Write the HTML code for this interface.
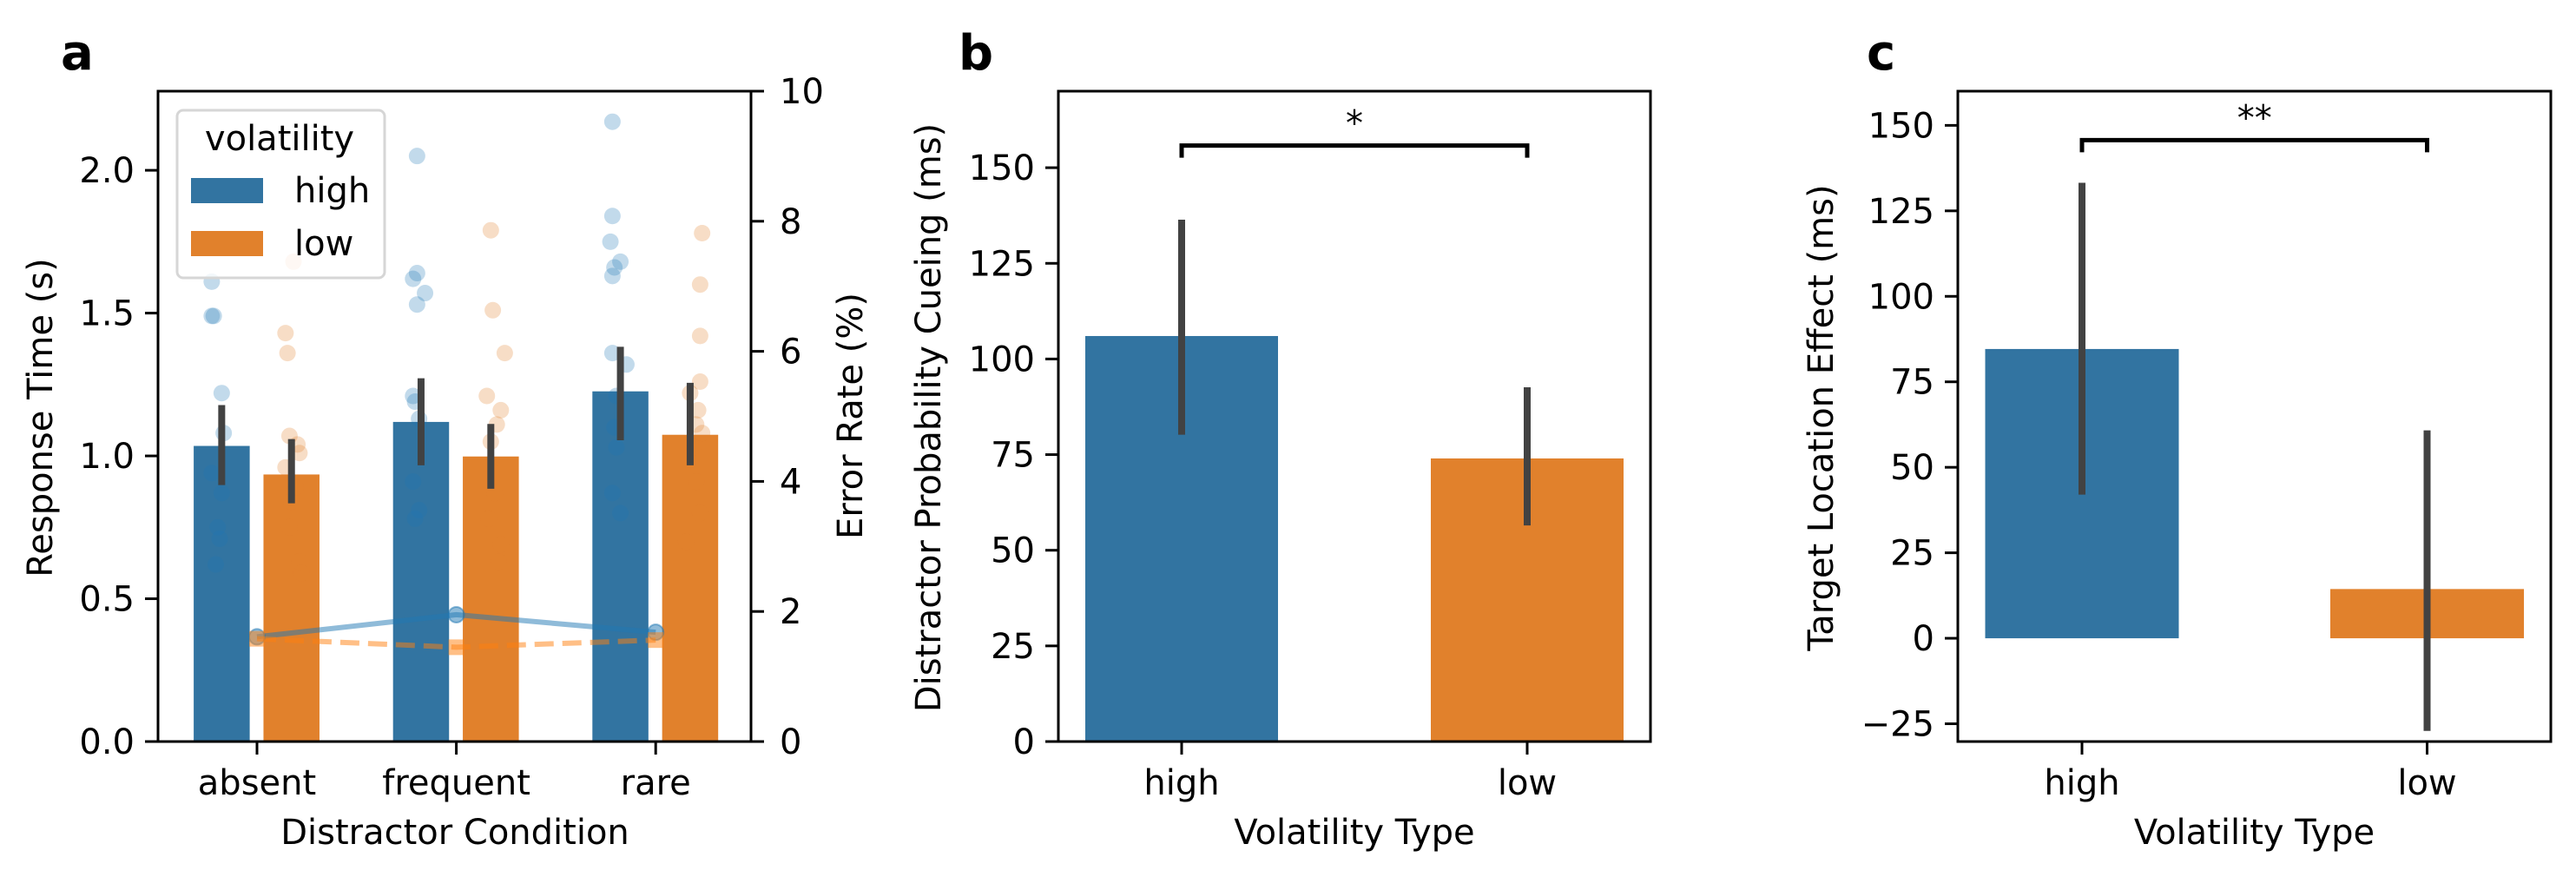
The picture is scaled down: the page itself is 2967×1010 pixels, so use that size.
<!DOCTYPE html>
<html><head><meta charset="utf-8">
<style>
html,body{margin:0;padding:0;background:#fff;}
svg{display:block;font-family:"DejaVu Sans","Liberation Sans",sans-serif;}
</style></head>
<body>
<svg id="fig" width="2967" height="1010" viewBox="0 0 2967 1010" xmlns="http://www.w3.org/2000/svg"></svg>
<script>
// ---------- Panel a data ----------
const aCategories = ["absent", "frequent", "rare"];
const aHues = ["high", "low"];
const aMeanHigh = [1.035, 1.119, 1.226];
const aMeanLow = [0.935, 0.998, 1.074];
const aCiHighLo = [0.898, 0.967, 1.055];
const aCiHighHi = [1.178, 1.272, 1.382];
const aCiLowLo = [0.834, 0.885, 0.967];
const aCiLowHi = [1.059, 1.112, 1.256];
const aErrHigh = [1.61, 1.95, 1.68];
const aErrLow = [1.58, 1.45, 1.56];
const aYTicks = [0.0, 0.5, 1.0, 1.5, 2.0];
const aY2Ticks = [0, 2, 4, 6, 8, 10];
const aPtsHigh = [
  [1.61,1.49,1.49,1.22,1.08,0.94,0.87,0.75,0.71,0.62],
  [2.05,1.64,1.62,1.57,1.53,1.21,1.19,1.13,0.91,0.81,0.78],
  [2.17,1.84,1.75,1.68,1.66,1.63,1.36,1.32,1.21,1.10,1.03,0.87,0.80]
];
const aJitHigh = [
  [-0.05,-0.05,-0.04,0.0,0.01,-0.05,0.0,-0.02,-0.01,-0.03],
  [-0.02,-0.02,-0.04,0.02,-0.02,-0.04,-0.03,-0.01,-0.04,-0.01,-0.03],
  [-0.04,-0.04,-0.05,0.0,-0.03,-0.04,-0.04,0.03,-0.02,-0.03,-0.02,-0.04,0.0]
];
const aPtsLow = [
  [1.68,1.43,1.36,1.07,1.04,1.01,0.96,0.89,0.84,0.75,0.63,0.59],
  [1.79,1.51,1.36,1.21,1.16,1.11,1.05,0.97,0.87,0.78,0.69,0.63],
  [1.78,1.60,1.42,1.26,1.22,1.16,1.11,1.08,1.03,0.91,0.80,0.70]
];
const aJitLow = [
  [0.01,-0.03,-0.02,-0.01,0.03,0.04,-0.03,0.02,0.0,-0.01,0.04,0.05],
  [0.0,0.01,0.07,-0.02,0.05,0.03,0.0,-0.01,0.02,-0.01,0.05,0.04],
  [0.06,0.05,0.05,0.05,0.0,0.04,0.03,0.06,0.02,0.03,0.05,-0.02]
];
// ---------- Panel b data ----------
const bCategories = ["high", "low"];
const bValues = [106.0, 74.0];
const bCiLo = [80.2, 56.5];
const bCiHi = [136.4, 92.6];
const bYTicks = [0, 25, 50, 75, 100, 125, 150];
const bSig = ["*"];
const bSigY = [155.8];
// ---------- Panel c data ----------
const cCategories = ["high", "low"];
const cValues = [84.6, 14.4];
const cCiLo = [42.0, -27.1];
const cCiHi = [133.2, 60.8];
const cYTicks = [-25, 0, 25, 50, 75, 100, 125, 150];
const cSig = ["**"];
const cSigY = [145.7];

const NS = "http://www.w3.org/2000/svg";
const svg = document.getElementById("fig");
const BLUE = "#3274a1", ORANGE = "#e1812c", ERR = "#424242";
function el(tag, attrs, parent) {
  const e = document.createElementNS(NS, tag);
  for (const k in attrs) e.setAttribute(k, attrs[k]);
  (parent || svg).appendChild(e);
  return e;
}
function txt(s, attrs, parent) { const t = el("text", attrs, parent); t.textContent = s; return t; }
function lin(d0, d1, r0, r1) { return v => r0 + (v - d0) / (d1 - d0) * (r1 - r0); }

function axesFrame(g, L, R, T, B) {
  const r = el("rect", {x: L, y: T, width: R - L, height: B - T, fill: "none", stroke: "#000", "stroke-width": 3}, g);
  
  
}
function yAxis(g, ticks, y, L, fmt) {
  ticks.forEach(t => {
    const l = el("line", {x1: L - 15, x2: L, y1: y(t), y2: y(t), stroke: "#000", "stroke-width": 3}, g);
    
    
    const s = txt(fmt(t), {x: L - 27, y: y(t) + 14, "text-anchor": "end", "font-size": 40}, g);
    
    
  });
}
function xAxis(g, cats, x, B) {
  cats.forEach((c, i) => {
    const l = el("line", {x1: x(i), x2: x(i), y1: B, y2: B + 15, stroke: "#000", "stroke-width": 3}, g);
    
    
    const s = txt(c, {x: x(i), y: 915, "text-anchor": "middle", "font-size": 40}, g);
    
    
  });
}
function fmtMinus(t) { return t < 0 ? "\u2212" + Math.abs(t) : String(t); }

// ================= Panel a =================
(function () {
  const g = el("g", {});
  
  
  const L = 182, R = 865, T = 105, B = 854;
  const catStep = 229.6, cat0 = 296;
  const x = i => cat0 + i * catStep;
  const y = lin(0, 2.277, B, T);
  const y2 = lin(0, 10, B, T);
  const off = [-0.177, 0.173], bw = 0.281 * catStep;
  const means = [aMeanHigh, aMeanLow], los = [aCiHighLo, aCiLowLo], his = [aCiHighHi, aCiLowHi];
  const cols = [BLUE, ORANGE];
  // bars
  aCategories.forEach((c, i) => {
    [0, 1].forEach(h => {
      const cx = x(i) + off[h] * catStep;
      const r = el("rect", {x: cx - bw / 2, y: y(means[h][i]), width: bw, height: B - y(means[h][i]), fill: cols[h]}, g);
      
      
    });
  });
  // strip points
  const pts = [aPtsHigh, aPtsLow], jit = [aJitHigh, aJitLow], pcol = ["#7fb0d6", "#ffb27a"];
  [0, 1].forEach(h => {
    pts[h].forEach((arr, i) => {
      arr.forEach((v, k) => {
        const cx = x(i) + (off[h] + jit[h][i][k]) * catStep;
        const p = el("circle", {cx: cx, cy: y(v), r: 9.5, fill: h ? ORANGE : "#1f77b4", "fill-opacity": 0.27}, g);
        
        
      });
    });
  });
  // error bars
  aCategories.forEach((c, i) => {
    [0, 1].forEach(h => {
      const cx = x(i) + off[h] * catStep;
      const e = el("line", {x1: cx, x2: cx, y1: y(los[h][i]), y2: y(his[h][i]), stroke: ERR, "stroke-width": 8}, g);
      
      
    });
  });
  // error-rate lines
  const errs = [aErrHigh, aErrLow];
  const lcol = ["#1f77b4", "#ff7f0e"];
  [0, 1].forEach(h => {
    const d = errs[h].map((v, i) => (i ? "L" : "M") + x(i) + "," + y2(v)).join(" ");
    const pl = el("path", {d: d, fill: "none", stroke: lcol[h], "stroke-opacity": 0.5, "stroke-width": 6, "stroke-dasharray": h ? "22,10" : "none"}, g);
    
    
    errs[h].forEach((v, i) => {
      let m;
      if (h === 0) m = el("circle", {cx: x(i), cy: y2(v), r: 9, fill: lcol[h], "fill-opacity": 0.5, stroke: lcol[h], "stroke-opacity": 0.5, "stroke-width": 2}, g);
      else m = el("rect", {x: x(i) - 9, y: y2(v) - 9, width: 18, height: 18, fill: lcol[h], "fill-opacity": 0.5}, g);
      
      
    });
  });
  axesFrame(g, L, R, T, B);
  yAxis(g, aYTicks, y, L, t => t.toFixed(1));
  xAxis(g, aCategories, x, B);
  // right axis
  aY2Ticks.forEach(t => {
    const l = el("line", {x1: R, x2: R + 15, y1: y2(t), y2: y2(t), stroke: "#000", "stroke-width": 3}, g);
    
    
    const s = txt(String(t), {x: R + 33, y: y2(t) + 14, "font-size": 40}, g);
    
    
  });
  // legend
  const lg = el("g", {}, g);
  
  
  el("rect", {x: 204, y: 127, width: 239, height: 193, rx: 7, fill: "#fff", "fill-opacity": 0.8, stroke: "#d6d6d6", "stroke-width": 3}, lg);
  txt("volatility", {x: 322, y: 173, "text-anchor": "middle", "font-size": 40}, lg);
  [["high", BLUE, 205], ["low", ORANGE, 266]].forEach(([n, c, yy]) => {
    const e = el("g", {}, lg);
    
    
    el("rect", {x: 220, y: yy, width: 83, height: 29, fill: c}, e);
    txt(n, {x: 339, y: yy + 28, "font-size": 40}, e);
  });
  const yl = txt("Response Time (s)", {x: 0, y: 0, "text-anchor": "middle", "font-size": 40, transform: "translate(60,481) rotate(-90)"}, g);
  
  
  const y2l = txt("Error Rate (%)", {x: 0, y: 0, "text-anchor": "middle", "font-size": 40, transform: "translate(993,479) rotate(-90)"}, g);
  
  
  const xl = txt("Distractor Condition", {x: 524, y: 972, "text-anchor": "middle", "font-size": 40}, g);
  
  
  const pl = txt("a", {x: 70, y: 80, "font-size": 56, "font-weight": "bold"}, g);
  
  
})();

// ================= Panels b & c =================
function barPanel(opts) {
  const g = el("g", {});
  
  
  const {L, R, T, B, x0, step, bw, ymin, ymax, cats, vals, lo, hi, ticks, sig, sigY} = opts;
  const x = i => x0 + i * step;
  const y = lin(ymin, ymax, B, T);
  const cols = [BLUE, ORANGE];
  cats.forEach((c, i) => {
    const y0 = y(0), yv = y(vals[i]);
    const r = el("rect", {x: x(i) - bw / 2, y: Math.min(y0, yv), width: bw, height: Math.abs(y0 - yv), fill: cols[i]}, g);
    
    
  });
  cats.forEach((c, i) => {
    const e = el("line", {x1: x(i), x2: x(i), y1: y(lo[i]), y2: y(hi[i]), stroke: ERR, "stroke-width": 8}, g);
    
    
  });
  const by = y(sigY[0]), drop = 14;
  const br = el("path", {d: `M${x(0)},${by + drop} L${x(0)},${by} L${x(1)},${by} L${x(1)},${by + drop}`, fill: "none", stroke: "#000", "stroke-width": 5}, g);
  
  
  const st = txt(sig[0], {x: (x(0) + x(1)) / 2, y: by - 12, "text-anchor": "middle", "font-size": 40}, g);
  
  
  axesFrame(g, L, R, T, B);
  yAxis(g, ticks, y, L, fmtMinus);
  xAxis(g, cats, x, B);
  const yl = txt(opts.ylabel, {x: 0, y: 0, "text-anchor": "middle", "font-size": 40, transform: `translate(${opts.ylx},481) rotate(-90)`}, g);
  
  
  const xl = txt("Volatility Type", {x: (L + R) / 2, y: 972, "text-anchor": "middle", "font-size": 40}, g);
  
  
  const pl = txt(opts.letter, {x: opts.lx, y: 80, "font-size": 56, "font-weight": "bold"}, g);
  
  
}
barPanel({name: "panel-b", L: 1219, R: 1901, T: 105, B: 854, x0: 1361, step: 398, bw: 222,
  ymin: 0, ymax: 170, cats: bCategories, vals: bValues, lo: bCiLo, hi: bCiHi, ticks: bYTicks,
  sig: bSig, sigY: bSigY, ylabel: "Distractor Probability Cueing (ms)", ylx: 1083, letter: "b", lx: 1104});
barPanel({name: "panel-c", L: 2255, R: 2938, T: 105, B: 854, x0: 2398, step: 397.5, bw: 223,
  ymin: -30.2, ymax: 160, cats: cCategories, vals: cValues, lo: cCiLo, hi: cCiHi, ticks: cYTicks,
  sig: cSig, sigY: cSigY, ylabel: "Target Location Effect (ms)", ylx: 2111, letter: "c", lx: 2150});
</script>
</body></html>
